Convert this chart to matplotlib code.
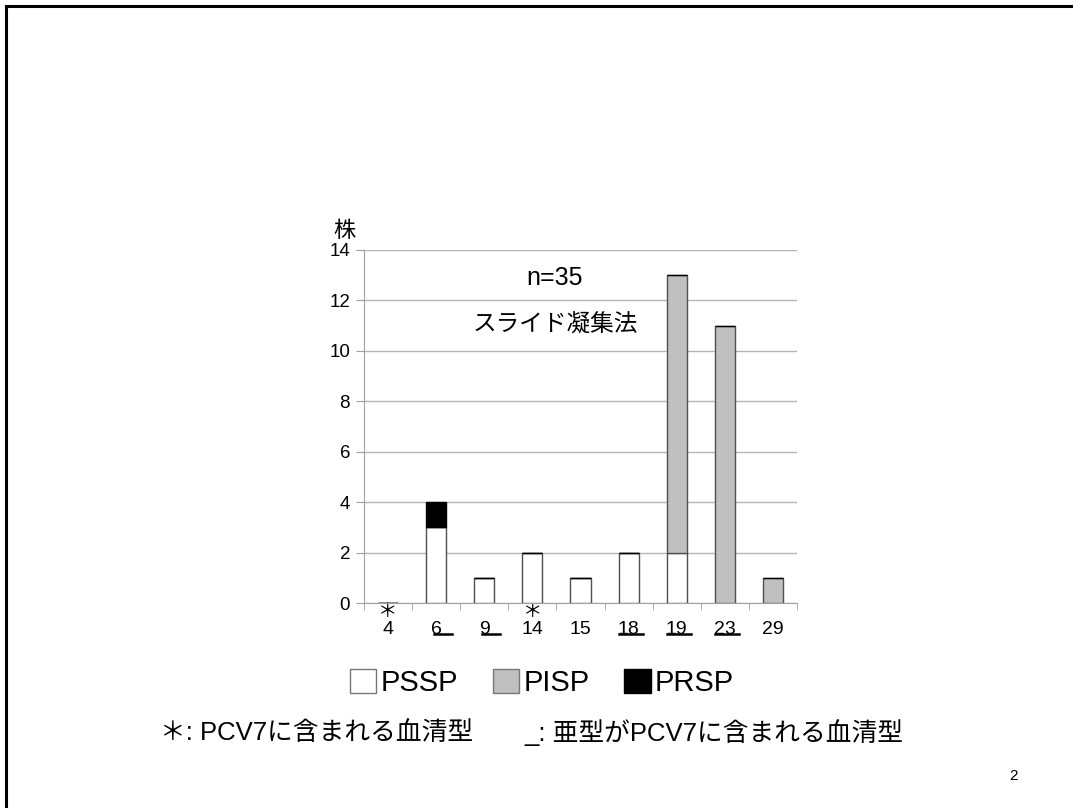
import matplotlib
matplotlib.use("Agg")
import matplotlib.pyplot as plt
from matplotlib.patches import Patch
from matplotlib.lines import Line2D
import numpy as np

plt.rcParams['font.family'] = ['Liberation Sans', 'Noto Sans CJK JP', 'DejaVu Sans']

# serotypes and counts per resistance class
serotypes = ['4', '6', '9', '14', '15', '18', '19', '23', '29']
pssp = [0, 3, 1, 2, 1, 2, 2, 0, 0]
pisp = [0, 0, 0, 0, 0, 0, 11, 11, 1]
prsp = [0, 1, 0, 0, 0, 0, 0, 0, 0]
in_pcv7 = ['4', '14']                      # marked with *
subtype_in_pcv7 = ['6', '9', '18', '19', '23']  # marked with _
yticks = [0, 2, 4, 6, 8, 10, 12, 14]

fig = plt.figure(figsize=(10.73, 8.08), dpi=100)
ax = fig.add_axes([0.3392, 0.2537, 0.4036, 0.4369])

x = np.arange(len(serotypes))
w = 0.42
pssp_a = np.array(pssp)
pisp_a = np.array(pisp)
prsp_a = np.array(prsp)
ax.bar(x, pssp_a, w, color='white', edgecolor='#505050', linewidth=1.0, zorder=3)
ax.bar(x, pisp_a, w, bottom=pssp_a, color='#c0c0c0', edgecolor='#505050', linewidth=1.0, zorder=3)
ax.bar(x, prsp_a, w, bottom=pssp_a + pisp_a, color='black', edgecolor='black', linewidth=1.0, zorder=3)

ax.set_xlim(-0.5, len(serotypes) - 0.5)
ax.set_ylim(0, 14)
ax.set_yticks(yticks)
ax.yaxis.grid(True, color='#b4b4b4', linewidth=1.0, zorder=0)
for s in ['top', 'right']:
    ax.spines[s].set_visible(False)
for s in ['left', 'bottom']:
    ax.spines[s].set_color('#a0a0a0')
ax.tick_params(axis='y', length=6, color='#a0a0a0', labelsize=13.5, pad=4)

# two-line labels: asterisk line above the serotype number
labels = [('＊' if s in in_pcv7 else '') + '\n' + s for s in serotypes]
ax.set_xticks(x)
ax.set_xticklabels(labels, linespacing=0.95)
ax.set_xticks(np.arange(-0.5, len(serotypes)), minor=True)
ax.tick_params(axis='x', which='major', length=0, labelsize=14, pad=1)
ax.tick_params(axis='x', which='minor', length=5, color='#a0a0a0')

trans = ax.get_xaxis_transform()
for i, s in enumerate(serotypes):
    if s in subtype_in_pcv7:
        if len(s) == 1:
            x0, x1 = i - 0.05, i + 0.33
        else:
            x0, x1 = i - 0.2, i + 0.3
        ax.plot([x0, x1], [-0.087, -0.087], transform=trans, color='black',
                linewidth=1.8, clip_on=False)

ax.text(-0.044, 1.051, '株', transform=ax.transAxes, ha='center', va='center', fontsize=16)
ax.text(3.47, 12.9, 'n=35', ha='center', va='center', fontsize=18)
ax.text(3.47, 11.0, 'スライド凝集法', ha='center', va='center', fontsize=17)

handles = [Patch(facecolor='white', edgecolor='#777777'),
           Patch(facecolor='#c0c0c0', edgecolor='#777777'),
           Patch(facecolor='black', edgecolor='black')]
fig.legend(handles, ['PSSP', 'PISP', 'PRSP'], loc='center', bbox_to_anchor=(0.505, 0.1545),
           ncol=3, frameon=False, fontsize=21, handlelength=0.9, handleheight=0.9,
           handletextpad=0.15, columnspacing=1.2)

fig.text(0.149, 0.093, '＊: PCV7に含まれる血清型', ha='left', va='center', fontsize=18.5)
fig.text(0.489, 0.093, '_: 亜型がPCV7に含まれる血清型', ha='left', va='center', fontsize=18.5)
fig.text(0.945, 0.04, '2', ha='center', va='center', fontsize=11)

# slide border (top and left)
fig.add_artist(Line2D([0.0055, 1.0], [0.9926, 0.9926], color='black', linewidth=2.2))
fig.add_artist(Line2D([0.0055, 0.0055], [0.0, 0.9926], color='black', linewidth=2.2))

fig.savefig('out.png', dpi=100)
